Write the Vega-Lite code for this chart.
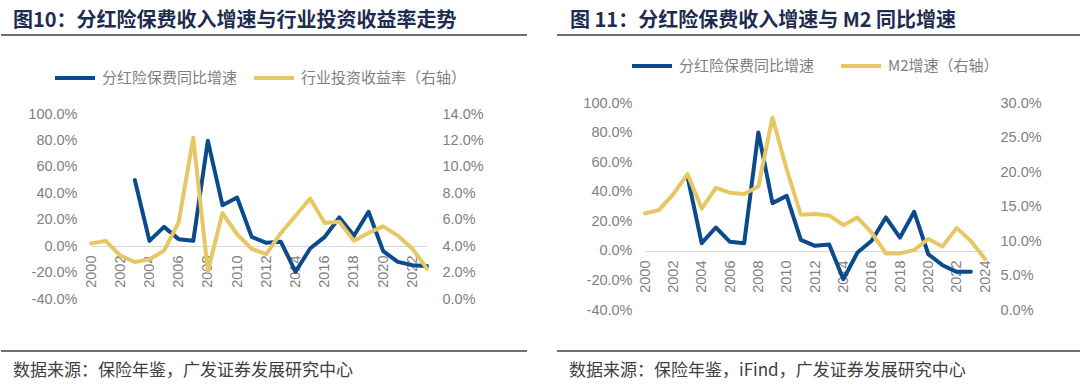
{
  "$schema": "https://vega.github.io/schema/vega-lite/v6.json",
  "background": "white",
  "padding": {"left": 0, "top": 11, "right": 0, "bottom": 8},
  "config": {"view": {"stroke": null}, "font": "Noto Sans CJK SC"},
  "datasets": {
    "left": [
      {"year": 2000, "growth": null, "yield": 0.042},
      {"year": 2001, "growth": null, "yield": 0.044},
      {"year": 2002, "growth": null, "yield": 0.033},
      {"year": 2003, "growth": 0.50, "yield": 0.028},
      {"year": 2004, "growth": 0.04, "yield": 0.030},
      {"year": 2005, "growth": 0.146, "yield": 0.0366},
      {"year": 2006, "growth": 0.053, "yield": 0.058},
      {"year": 2007, "growth": 0.04, "yield": 0.122},
      {"year": 2008, "growth": 0.797, "yield": 0.021},
      {"year": 2009, "growth": 0.31, "yield": 0.065},
      {"year": 2010, "growth": 0.368, "yield": 0.049},
      {"year": 2011, "growth": 0.07, "yield": 0.038},
      {"year": 2012, "growth": 0.025, "yield": 0.034},
      {"year": 2013, "growth": 0.033, "yield": 0.050},
      {"year": 2014, "growth": -0.194, "yield": 0.063},
      {"year": 2015, "growth": -0.018, "yield": 0.076},
      {"year": 2016, "growth": 0.07, "yield": 0.0575},
      {"year": 2017, "growth": 0.217, "yield": 0.0585},
      {"year": 2018, "growth": 0.078, "yield": 0.044},
      {"year": 2019, "growth": 0.26, "yield": 0.050},
      {"year": 2020, "growth": -0.038, "yield": 0.055},
      {"year": 2021, "growth": -0.119, "yield": 0.048},
      {"year": 2022, "growth": -0.144, "yield": 0.038},
      {"year": 2023, "growth": -0.151, "yield": 0.023}
    ],
    "right": [
      {"year": 2000, "growth": null, "m2": 0.140},
      {"year": 2001, "growth": null, "m2": 0.145},
      {"year": 2002, "growth": null, "m2": 0.168},
      {"year": 2003, "growth": 0.503, "m2": 0.197},
      {"year": 2004, "growth": 0.052, "m2": 0.147},
      {"year": 2005, "growth": 0.158, "m2": 0.177},
      {"year": 2006, "growth": 0.061, "m2": 0.170},
      {"year": 2007, "growth": 0.052, "m2": 0.168},
      {"year": 2008, "growth": 0.801, "m2": 0.179},
      {"year": 2009, "growth": 0.323, "m2": 0.279},
      {"year": 2010, "growth": 0.372, "m2": 0.204},
      {"year": 2011, "growth": 0.074, "m2": 0.138},
      {"year": 2012, "growth": 0.034, "m2": 0.139},
      {"year": 2013, "growth": 0.043, "m2": 0.137},
      {"year": 2014, "growth": -0.192, "m2": 0.123},
      {"year": 2015, "growth": -0.011, "m2": 0.134},
      {"year": 2016, "growth": 0.068, "m2": 0.112},
      {"year": 2017, "growth": 0.226, "m2": 0.082},
      {"year": 2018, "growth": 0.09, "m2": 0.082},
      {"year": 2019, "growth": 0.264, "m2": 0.087},
      {"year": 2020, "growth": -0.023, "m2": 0.103},
      {"year": 2021, "growth": -0.097, "m2": 0.092},
      {"year": 2022, "growth": -0.142, "m2": 0.119},
      {"year": 2023, "growth": -0.142, "m2": 0.100},
      {"year": 2024, "growth": null, "m2": 0.074}
    ]
  },
  "spacing": 28,
  "resolve": {"scale": {"color": "independent"}},
  "hconcat": [
    {
      "columns": 1,
      "spacing": 0,
      "resolve": {"scale": {"color": "independent"}},
      "concat": [
        {
          "width": 526,
          "height": 21,
          "data": {"values": [{}]},
          "title": {"text": "图10：分红险保费收入增速与行业投资收益率走势", "anchor": "start", "frame": "group", "dx": 12, "offset": 3, "fontSize": 20, "fontWeight": "bold", "color": "#1e2d4f", "font": "Noto Sans CJK SC"},
          "mark": {"type": "rule", "color": "#404040", "strokeWidth": 1.5},
          "encoding": {"y": {"datum": 1, "type": "quantitative", "scale": {"domain": [0, 1]}, "axis": null}}
        },
        {
          "width": 426,
          "height": 185,
          "data": {"name": "left"},
          "resolve": {"scale": {"y": "independent"}},
          "encoding": {
            "x": {"field": "year", "type": "quantitative", "scale": {"domain": [2000, 2023], "range": [90, 426], "nice": false, "zero": false},
              "axis": {"values": [2000, 2002, 2004, 2006, 2008, 2010, 2012, 2014, 2016, 2018, 2020, 2022], "format": "d", "labelAngle": 270, "labelAlign": "right", "labelBaseline": "middle", "labelFontSize": 14.5, "labelFont": "Liberation Sans", "labelColor": "#7f7f7f", "labelPadding": 9, "ticks": false, "domainColor": "#d9d9d9", "domainWidth": 1, "grid": false, "title": null, "offset": -53, "labelFlush": false, "labelOverlap": false, "labelBound": false}}
          },
          "layer": [
            {
              "mark": {"type": "line", "strokeWidth": 4, "strokeJoin": "round", "strokeCap": "round"},
              "encoding": {
                "y": {"field": "growth", "type": "quantitative", "scale": {"domain": [-0.4, 1.0], "nice": false, "zero": false},
                  "axis": {"orient": "left", "offset": -90, "values": [-0.4, -0.2, 0, 0.2, 0.4, 0.6, 0.8, 1.0], "format": ".1%", "labelExpr": "replace(datum.label, '\u2212', '-')", "labelFontSize": 14.5, "labelFont": "Liberation Sans", "labelColor": "#7f7f7f", "labelPadding": 14, "ticks": false, "domain": false, "grid": false, "title": null, "minExtent": 0}},
                "color": {"datum": "分红险保费同比增速", "type": "nominal",
                  "scale": {"domain": ["分红险保费同比增速", "行业投资收益率（右轴）"], "range": ["#0b4a8b", "#e7c763"]},
                  "legend": {"orient": "none", "legendX": 52, "legendY": -58, "direction": "horizontal", "title": null, "symbolType": "stroke", "symbolStrokeWidth": 4, "symbolSize": 1600, "labelFontSize": 15, "labelLimit": 400, "labelColor": "#808080", "labelFont": "Noto Sans CJK SC", "labelOffset": 5, "columnPadding": 8}}
              }
            },
            {
              "mark": {"type": "line", "strokeWidth": 4, "strokeJoin": "round", "strokeCap": "round"},
              "encoding": {
                "y": {"field": "yield", "type": "quantitative", "scale": {"domain": [0, 0.14], "nice": false, "zero": false},
                  "axis": {"orient": "right", "values": [0, 0.02, 0.04, 0.06, 0.08, 0.10, 0.12, 0.14], "format": ".1%", "labelFontSize": 14.5, "labelFont": "Liberation Sans", "labelColor": "#7f7f7f", "labelPadding": 15, "ticks": false, "domain": false, "grid": false, "title": null, "minExtent": 0}},
                "color": {"datum": "行业投资收益率（右轴）", "type": "nominal"}
              }
            }
          ]
        },
        {
          "width": 526,
          "height": 45,
          "data": {"values": [{}]},
          "title": {"text": "数据来源：保险年鉴，广发证券发展研究中心", "orient": "bottom", "anchor": "start", "frame": "group", "dx": 12, "offset": 11, "fontSize": 17, "fontWeight": "normal", "color": "#404040", "font": "Noto Sans CJK SC"},
          "mark": {"type": "rule", "color": "#404040", "strokeWidth": 1.5},
          "encoding": {"y": {"datum": 0, "type": "quantitative", "scale": {"domain": [0, 1]}, "axis": null}}
        }
      ]
    },
    {
      "columns": 1,
      "spacing": 0,
      "resolve": {"scale": {"color": "independent"}},
      "concat": [
        {
          "width": 526,
          "height": 9,
          "data": {"values": [{}]},
          "title": {"text": "图 11：分红险保费收入增速与 M2 同比增速", "anchor": "start", "frame": "group", "dx": 13, "offset": 3, "fontSize": 20, "fontWeight": "bold", "color": "#1e2d4f", "font": "Noto Sans CJK SC"},
          "mark": {"type": "rule", "color": "#404040", "strokeWidth": 1.5},
          "encoding": {"y": {"datum": 1, "type": "quantitative", "scale": {"domain": [0, 1]}, "axis": null}}
        },
        {
          "width": 428,
          "height": 207,
          "data": {"name": "right"},
          "resolve": {"scale": {"y": "independent"}},
          "encoding": {
            "x": {"field": "year", "type": "quantitative", "scale": {"domain": [2000, 2024], "range": [88, 428], "nice": false, "zero": false},
              "axis": {"values": [2000, 2002, 2004, 2006, 2008, 2010, 2012, 2014, 2016, 2018, 2020, 2022, 2024], "format": "d", "labelAngle": 270, "labelAlign": "right", "labelBaseline": "middle", "labelFontSize": 14.5, "labelFont": "Liberation Sans", "labelColor": "#7f7f7f", "labelPadding": 9, "ticks": false, "domainColor": "#d9d9d9", "domainWidth": 1, "grid": false, "title": null, "offset": -59, "labelFlush": false, "labelOverlap": false, "labelBound": false}}
          },
          "layer": [
            {
              "mark": {"type": "line", "strokeWidth": 4, "strokeJoin": "round", "strokeCap": "round"},
              "encoding": {
                "y": {"field": "growth", "type": "quantitative", "scale": {"domain": [-0.4, 1.0], "nice": false, "zero": false},
                  "axis": {"orient": "left", "offset": -88, "values": [-0.4, -0.2, 0, 0.2, 0.4, 0.6, 0.8, 1.0], "format": ".1%", "labelExpr": "replace(datum.label, '\u2212', '-')", "labelFontSize": 14.5, "labelFont": "Liberation Sans", "labelColor": "#7f7f7f", "labelPadding": 13, "ticks": false, "domain": false, "grid": false, "title": null, "minExtent": 0}},
                "color": {"datum": "分红险保费同比增速", "type": "nominal",
                  "scale": {"domain": ["分红险保费同比增速", "M2增速（右轴）"], "range": ["#0b4a8b", "#e7c763"]},
                  "legend": {"orient": "none", "legendX": 73, "legendY": -59, "direction": "horizontal", "title": null, "symbolType": "stroke", "symbolStrokeWidth": 4, "symbolSize": 1600, "labelFontSize": 15, "labelLimit": 400, "labelColor": "#808080", "labelFont": "Noto Sans CJK SC", "labelOffset": 5, "columnPadding": 18}}
              }
            },
            {
              "mark": {"type": "line", "strokeWidth": 4, "strokeJoin": "round", "strokeCap": "round"},
              "encoding": {
                "y": {"field": "m2", "type": "quantitative", "scale": {"domain": [0, 0.30], "nice": false, "zero": false},
                  "axis": {"orient": "right", "values": [0, 0.05, 0.10, 0.15, 0.20, 0.25, 0.30], "format": ".1%", "labelFontSize": 14.5, "labelFont": "Liberation Sans", "labelColor": "#7f7f7f", "labelPadding": 15, "ticks": false, "domain": false, "grid": false, "title": null, "minExtent": 0}},
                "color": {"datum": "M2增速（右轴）", "type": "nominal"}
              }
            }
          ]
        },
        {
          "width": 526,
          "height": 34,
          "data": {"values": [{}]},
          "title": {"text": "数据来源：保险年鉴，iFind，广发证券发展研究中心", "orient": "bottom", "anchor": "start", "frame": "group", "dx": 12, "offset": 11, "fontSize": 17, "fontWeight": "normal", "color": "#404040", "font": "Noto Sans CJK SC"},
          "mark": {"type": "rule", "color": "#404040", "strokeWidth": 1.5},
          "encoding": {"y": {"datum": 0, "type": "quantitative", "scale": {"domain": [0, 1]}, "axis": null}}
        }
      ]
    }
  ]
}
